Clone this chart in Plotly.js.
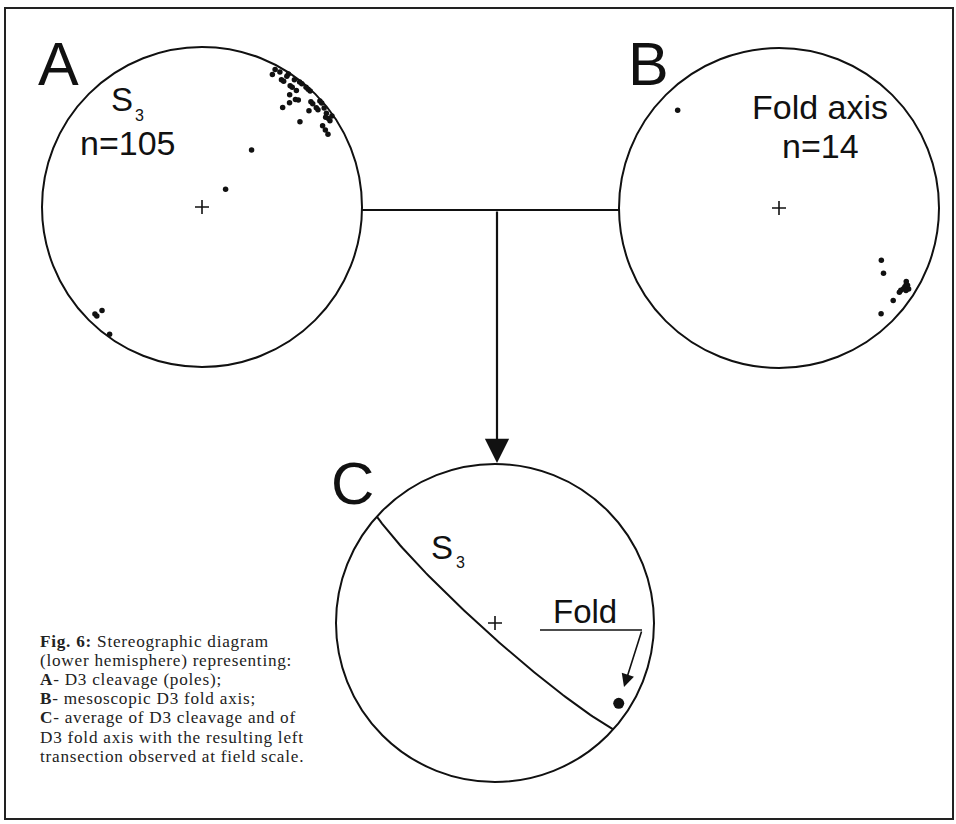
<!DOCTYPE html>
<html>
<head>
<meta charset="utf-8">
<script src="https://cdn.plot.ly/plotly-3.0.1.min.js"></script>
<style>
html,body{margin:0;padding:0;background:#fff}
/* the printed caption is set a little wider than Liberation Serif */
text.annotation-text[style*="Serif"]{letter-spacing:0.75px}
</style>
</head>
<body>
<div id="fig6" style="width:956px;height:824px"></div>
<script>
// A - poles to D3 cleavage S3 (trend / plunge, degrees)
var aTrend  = [28,30,28,33,32,33,36,38,39,36, 37,39,42,43,38,41,42,39,40,46, 47,49,48,49,51,48,50,54,55,56, 49,56,58,60,55,53,41,33,41,53, 225,224,224,216];
var aPlunge = [3,3,7,1,7,7,2,1,1,7, 7,7,1,1,12,12,11,21,16,6, 6,6,1,1,2,11,6,5,4,4, 20,10,10,10,1,3,1,3,51,75, 6,6,11,2];
// B - mesoscopic D3 fold axes
var bTrend  = [314,117,122,121,122,124,125,122,120,129,136,123,121,123];
var bPlunge = [13,29,24,8,8,9,9,5,9,9,9,8,7,6];
// C - mean S3 plane (dip direction / dip) and mean fold axis
var s3DipDir = 222, s3Dip = 84;
var foldTrend = [123], foldPlunge = [8];

var captionLines = [
  '<b>Fig. 6:</b> Stereographic diagram',
  '(lower hemisphere) representing:',
  '<b>A</b>- D3 cleavage (poles);',
  '<b>B</b>- mesoscopic D3 fold axis;',
  '<b>C</b>- average of D3 cleavage and of',
  'D3 fold axis with the resulting left',
  'transection observed at field scale.'
];

var W = 956, H = 824;
function px(x) { return x / W; }
function py(y) { return 1 - y / H; }

// lower hemisphere equal-area projection
function project(trend, plunge) {
  var xs = [], ys = [];
  for (var i = 0; i < trend.length; i++) {
    var r = Math.SQRT2 * Math.sin((90 - plunge[i]) * Math.PI / 360);
    xs.push(r * Math.sin(trend[i] * Math.PI / 180));
    ys.push(r * Math.cos(trend[i] * Math.PI / 180));
  }
  return {x: xs, y: ys};
}

function greatCircle(dipDir, dip) {
  var d2r = Math.PI / 180, t = [], p = [];
  var st = (dipDir - 90) * d2r, dd = dipDir * d2r, dp = dip * d2r;
  for (var k = 0; k <= 180; k += 2) {
    var a = k * d2r;
    var e = Math.cos(a) * Math.sin(st) + Math.sin(a) * Math.sin(dd) * Math.cos(dp);
    var n = Math.cos(a) * Math.cos(st) + Math.sin(a) * Math.cos(dd) * Math.cos(dp);
    var dn = Math.sin(a) * Math.sin(dp);
    t.push(Math.atan2(e, n) / d2r);
    p.push(Math.asin(Math.min(1, dn)) / d2r);
  }
  return project(t, p);
}

// net placement on the page (pixels)
var nets = [
  {cx: 202, cy: 207, r: 160},
  {cx: 779, cy: 208, r: 160},
  {cx: 495, cy: 623, r: 159}
];
var lim = 1.08;
function xax(n) { return {domain: [px(n.cx - lim * n.r), px(n.cx + lim * n.r)], range: [-lim, lim], visible: false, fixedrange: true}; }
function yax(n) { return {domain: [py(n.cy + lim * n.r), py(n.cy - lim * n.r)], range: [-lim, lim], visible: false, fixedrange: true}; }

var ink = '#111';
var sans = 'Liberation Sans, Arial, sans-serif';
var serif = 'Liberation Serif, Times New Roman, serif';

var pa = project(aTrend, aPlunge);
var pb = project(bTrend, bPlunge);
var pf = project(foldTrend, foldPlunge);
var gc = greatCircle(s3DipDir, s3Dip);

function centre(xa, ya) {
  return {x: [0], y: [0], xaxis: xa, yaxis: ya, mode: 'markers', hoverinfo: 'skip',
    marker: {symbol: 'cross-thin', size: 10, line: {width: 1.6, color: ink}}};
}

var data = [
  {x: pa.x, y: pa.y, xaxis: 'x', yaxis: 'y', mode: 'markers', marker: {size: 5.5, color: ink}},
  centre('x', 'y'),
  {x: pb.x, y: pb.y, xaxis: 'x2', yaxis: 'y2', mode: 'markers', marker: {size: 5.5, color: ink}},
  centre('x2', 'y2'),
  {x: gc.x, y: gc.y, xaxis: 'x3', yaxis: 'y3', mode: 'lines', line: {color: ink, width: 2}},
  {x: pf.x, y: pf.y, xaxis: 'x3', yaxis: 'y3', mode: 'markers', marker: {size: 11, color: ink}},
  centre('x3', 'y3')
];

var shapes = [
  {type: 'rect', xref: 'paper', yref: 'paper', x0: px(5), x1: px(953), y0: py(819), y1: py(8), line: {color: '#222', width: 2}},
  {type: 'circle', xref: 'x', yref: 'y', x0: -1, x1: 1, y0: -1, y1: 1, line: {color: ink, width: 2}},
  {type: 'circle', xref: 'x2', yref: 'y2', x0: -1, x1: 1, y0: -1, y1: 1, line: {color: ink, width: 2}},
  {type: 'circle', xref: 'x3', yref: 'y3', x0: -1, x1: 1, y0: -1, y1: 1, line: {color: ink, width: 2}},
  {type: 'line', xref: 'paper', yref: 'paper', x0: px(362), x1: px(619), y0: py(210), y1: py(210), line: {color: ink, width: 2.2}},
  {type: 'line', xref: 'paper', yref: 'paper', x0: px(540), x1: px(642), y0: py(630), y1: py(630), line: {color: ink, width: 1.6}}
];

function label(txt, x, y, size, anchor) {
  return {text: txt, x: px(x), y: py(y), xref: 'paper', yref: 'paper', showarrow: false,
    xanchor: anchor || 'center', yanchor: 'middle', font: {family: sans, size: size, color: ink}};
}

var annotations = [
  label('A', 58, 64, 61),
  label('B', 648, 64, 61),
  label('C', 352, 483, 60),
  label('S', 122, 100, 33),
  label('3', 139, 116, 16),
  label('n=105', 128, 143, 34),
  label('Fold axis', 820, 107, 34),
  label('n=14', 820, 146, 34),
  label('S', 442, 547, 33),
  label('3', 460, 562, 16),
  label('Fold', 585, 611, 33),
  {text: '', x: px(497), y: py(463), xref: 'paper', yref: 'paper', showarrow: true, ax: 0, ay: -253,
    arrowhead: 2, arrowsize: 2.2, arrowwidth: 2.2, arrowcolor: ink},
  {text: '', x: px(624), y: py(687), xref: 'paper', yref: 'paper', showarrow: true, ax: 18, ay: -57,
    arrowhead: 2, arrowsize: 1.6, arrowwidth: 1.6, arrowcolor: ink}
];
// caption set line by line, printed leading is tighter than Plotly's default
captionLines.forEach(function (t, i) {
  annotations.push({text: t, x: px(39), y: py(641 + 19.2 * i), xref: 'paper', yref: 'paper', showarrow: false,
    xanchor: 'left', yanchor: 'middle', borderpad: 0,
    font: {family: serif, size: 17.2, color: '#222'}});
});

var layout = {
  width: W, height: H,
  margin: {l: 0, r: 0, t: 0, b: 0},
  paper_bgcolor: '#fff', plot_bgcolor: 'rgba(0,0,0,0)',
  showlegend: false,
  xaxis: xax(nets[0]), yaxis: yax(nets[0]),
  xaxis2: xax(nets[1]), yaxis2: yax(nets[1]),
  xaxis3: xax(nets[2]), yaxis3: yax(nets[2]),
  shapes: shapes,
  annotations: annotations
};

Plotly.newPlot('fig6', data, layout, {staticPlot: true});
</script>
</body>
</html>
